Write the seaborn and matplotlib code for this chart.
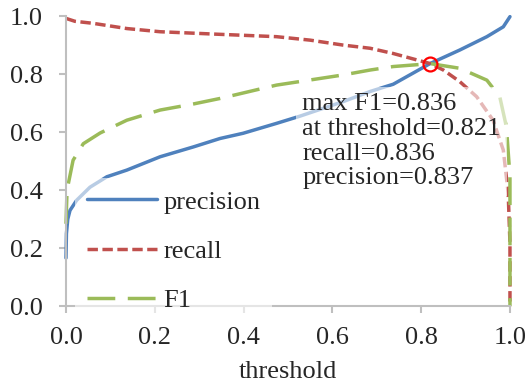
# -*- coding: utf-8 -*-

import matplotlib
matplotlib.use('Agg')
import matplotlib.pyplot as plt
import seaborn as sns

# values
precision_thr = [0.0, 0.001, 0.004, 0.009, 0.024, 0.054, 0.092, 0.137, 0.212, 0.287, 0.347,
                 0.399, 0.474, 0.527, 0.624, 0.685, 0.737, 0.821, 0.887, 0.948, 0.985, 1.0]
precision = [0.166, 0.25, 0.30, 0.33, 0.365, 0.41, 0.446, 0.469, 0.515, 0.549, 0.578,
             0.596, 0.630, 0.655, 0.705, 0.740, 0.765, 0.837, 0.883, 0.929, 0.963, 0.998]

recall_thr = [0.0, 0.02, 0.061, 0.137, 0.212, 0.332, 0.474, 0.55, 0.624, 0.685, 0.737, 0.821,
              0.85, 0.887, 0.925, 0.962, 0.985, 0.996, 1.0, 1.0]
recall = [0.992, 0.982, 0.975, 0.957, 0.946, 0.938, 0.929, 0.917, 0.900, 0.889, 0.871, 0.836,
          0.814, 0.774, 0.722, 0.641, 0.538, 0.390, 0.217, 0.0]

f1_thr = [0.0, 0.002, 0.005, 0.016, 0.039, 0.077, 0.137, 0.212, 0.287, 0.347, 0.474, 0.624,
          0.685, 0.737, 0.821, 0.887, 0.948, 0.977, 0.992, 1.0, 1.0]
f1 = [0.284, 0.38, 0.42, 0.503, 0.56, 0.597, 0.641, 0.676, 0.697, 0.716, 0.762, 0.797,
      0.814, 0.826, 0.836, 0.820, 0.779, 0.722, 0.618, 0.446, 0.0]

best_thr = 0.821
best_f1 = 0.836
best_recall = 0.836
best_precision = 0.837

sns.set_style('white')
plt.rcParams['font.family'] = ['Liberation Serif', 'DejaVu Serif']
fs = 19

fig = plt.figure(figsize=(5.3, 3.92), dpi=100)
ax = fig.add_axes([0.1245, 0.219, 0.8377, 0.74])

lw = 2.5
series = [
	(precision_thr, precision, 'precision', '#4F81BD', '-'),
	(recall_thr, recall, 'recall', '#C0504D', (0, (3, 1.3))),
	(f1_thr, f1, 'F1', '#9BBB59', (0, (8, 3.6))),
]
for x, y, name, color, ls in series:
	sns.lineplot(x=x, y=y, ax=ax, color=color, lw=lw, sort=False, estimator=None, label=name)
	line = ax.lines[-1]
	line.set_linestyle(ls)
	line.set_clip_on(False)

ax.plot([best_thr], [best_f1], marker='o', ms=10, mfc='none', mec='#FF0000', mew=1.6,
        ls='none', clip_on=False, zorder=4)

ax.text(0.532, 0.734,
        'max F1=%.3f\nat threshold=%.3f\nrecall=%.3f\nprecision=%.3f'
        % (best_f1, best_thr, best_recall, best_precision),
        transform=ax.transAxes, fontsize=fs, va='top', ha='left', linespacing=1.16,
        bbox=dict(facecolor='white', alpha=0.6, edgecolor='none', pad=4.5), zorder=5)

ax.set_xlim(0, 1)
ax.set_ylim(0, 1)
ax.set_xticks([0, 0.2, 0.4, 0.6, 0.8, 1.0])
ax.set_yticks([0, 0.2, 0.4, 0.6, 0.8, 1.0])
ax.set_xticklabels(['0.0', '0.2', '0.4', '0.6', '0.8', '1.0'])
ax.set_yticklabels(['0.0', '0.2', '0.4', '0.6', '0.8', '1.0'])
ax.set_xlabel('threshold', fontsize=fs, labelpad=9)
ax.set_ylabel('')

for side in ['top', 'right']:
	ax.spines[side].set_visible(False)
for side in ['left', 'bottom']:
	ax.spines[side].set_color('#BFBFBF')
	ax.spines[side].set_linewidth(1.5)
ax.tick_params(axis='both', which='major', labelsize=fs, color='#BFBFBF', width=1.5,
               length=5, direction='out', left=True, bottom=True)
ax.tick_params(axis='x', pad=10)
ax.tick_params(axis='y', pad=11.5)

leg = ax.legend(loc='center left', bbox_to_anchor=(0.02, 0.19), fontsize=fs, frameon=True,
                handlelength=2.65, handletextpad=0.25, labelspacing=0.97,
                borderaxespad=0.0, borderpad=0.45)
leg.get_frame().set_facecolor('white')
leg.get_frame().set_alpha(0.6)
leg.get_frame().set_edgecolor('none')
leg.get_frame().set_boxstyle('square', pad=0)

fig.savefig('out.png', dpi=100)
